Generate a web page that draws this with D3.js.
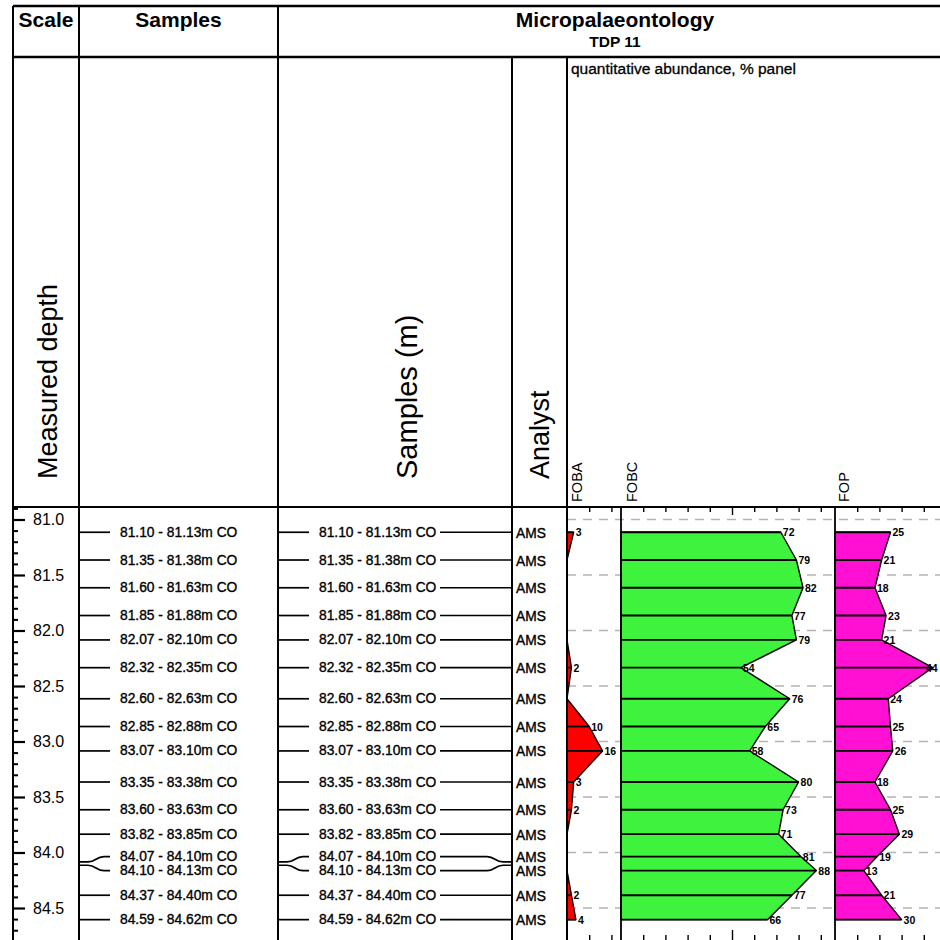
<!DOCTYPE html>
<html lang="en">
<head>
<meta charset="UTF-8">
<script src="https://d3js.org/d3.v7.min.js"></script>
<style>
  body { margin: 0; background: #fff; }
  svg { display: block; font-family: "Liberation Sans", Arial, sans-serif; }
</style>
</head>
<body>
<div id="chart"></div>
<script>
// samples (top / base depth, m)
const sampleTop  = [81.10, 81.35, 81.60, 81.85, 82.07, 82.32, 82.60, 82.85, 83.07, 83.35, 83.60, 83.82, 84.07, 84.10, 84.37, 84.59];
const sampleBase = [81.13, 81.38, 81.63, 81.88, 82.10, 82.35, 82.63, 82.88, 83.10, 83.38, 83.63, 83.85, 84.10, 84.13, 84.40, 84.62];
const analysts   = ["AMS", "AMS", "AMS", "AMS", "AMS", "AMS", "AMS", "AMS", "AMS", "AMS", "AMS", "AMS", "AMS", "AMS", "AMS", "AMS"];

// quantitative abundance, %
const foba = [3, 0, 0, 0, 0, 2, 0, 10, 16, 3, 2, 0, 0, 0, 2, 4];
const fobc = [72, 79, 82, 77, 79, 54, 76, 65, 58, 80, 73, 71, 81, 88, 77, 66];
const fop  = [25, 21, 18, 23, 21, 44, 24, 25, 26, 18, 25, 29, 19, 13, 21, 30];

const depthLabels = [81.0, 81.5, 82.0, 82.5, 83.0, 83.5, 84.0, 84.5];
const depthMinor  = [80.9, 81.1, 81.2, 81.3, 81.4, 81.6, 81.7, 81.8, 81.9, 82.1, 82.2, 82.3, 82.4, 82.6, 82.7, 82.8, 82.9,
                     83.1, 83.2, 83.3, 83.4, 83.6, 83.7, 83.8, 83.9, 84.1, 84.2, 84.3, 84.4, 84.6, 84.7];
const pctTicks = [10, 20, 30, 40, 50, 60, 70, 80, 90];

const W = 940, H = 940;
const svg = d3.select("#chart").append("svg").attr("width", W).attr("height", H);

// layout
const topY = 6, headBottom = 57, panelTop = 507, bottomY = 941;
const colX = { left: 13, scale: 79, samples: 278, analyst: 512, foba: 567, fobc: 621, fop: 835 };

const y = d3.scaleLinear().domain([81, 84.5]).range([519.5, 908]);

// one x-scale per curve, same % width
const pctW = 222;
const xFoba = d3.scaleLinear().domain([0, 100]).range([colX.foba, colX.foba + pctW]);
const xFobc = d3.scaleLinear().domain([0, 100]).range([colX.fobc, colX.fobc + pctW]);
const xFop  = d3.scaleLinear().domain([0, 100]).range([colX.fop, colX.fop + pctW]);

// sample mid depth and spread label positions
const samples = sampleTop.map((t, i) => ({
  top: t, base: sampleBase[i], analyst: analysts[i],
  foba: foba[i], fobc: fobc[i], fop: fop[i],
  yTrue: y((t + sampleBase[i]) / 2)
}));
samples.forEach(d => d.yl = d.yTrue);
const minGap = 14;
for (let k = 0; k < 20; k++) {
  for (let i = 1; i < samples.length; i++) {
    const a = samples[i - 1], b = samples[i];
    if (b.yl - a.yl < minGap) {
      const m = (a.yl + b.yl) / 2;
      a.yl = m - minGap / 2;
      b.yl = m + minGap / 2;
    }
  }
}

// dashed grid in the data panels (behind fills)
svg.append("g").selectAll("line").data(depthLabels).join("line")
  .attr("x1", colX.foba).attr("x2", W)
  .attr("y1", d => y(d)).attr("y2", d => y(d))
  .attr("stroke", "#b4b4b4").attr("stroke-width", 1.3)
  .attr("stroke-dasharray", "9,7");

// curves
function drawCurve(key, xs, color) {
  const g = svg.append("g");
  const x0 = xs(0);
  g.append("path")
    .datum(samples)
    .attr("d", d3.area().x0(x0).x1(d => xs(d[key])).y(d => d.yl))
    .attr("fill", color)
    .attr("stroke", "#000").attr("stroke-width", 1.4).attr("stroke-linejoin", "round");
  g.selectAll("line").data(samples).join("line")
    .attr("x1", x0).attr("x2", d => xs(d[key]))
    .attr("y1", d => d.yl).attr("y2", d => d.yl)
    .attr("stroke", "#000").attr("stroke-width", 1.8);
  g.selectAll("text").data(samples.filter(d => d[key] > 0)).join("text")
    .attr("x", d => Math.min(xs(d[key]) + 2, W - 14))
    .attr("y", d => d.yl)
    .attr("dominant-baseline", "central")
    .attr("font-size", 10.5).attr("font-weight", "bold")
    .text(d => d[key]);
}
drawCurve("foba", xFoba, "#ff0000");
drawCurve("fobc", xFobc, "#3ef23e");
drawCurve("fop", xFop, "#ff10d2");

// percent ticks, top and bottom of each panel
[[xFoba, colX.fobc], [xFobc, colX.fop], [xFop, W]].forEach(([xs, b]) => {
  const tv = pctTicks.filter(v => xs(v) < b - 2);
  const gt = svg.append("g").attr("transform", `translate(0,${panelTop})`)
    .call(d3.axisBottom(xs).tickValues(tv).tickSize(5).tickFormat(""));
  gt.selectAll("line").attr("stroke-width", 1.4).attr("y2", d => d === 50 ? 8 : 5);
  gt.select(".domain").remove();
  const gb = svg.append("g").attr("transform", `translate(0,${bottomY})`)
    .call(d3.axisTop(xs).tickValues(tv).tickSize(5).tickFormat(""));
  gb.selectAll("line").attr("stroke-width", 1.4).attr("y2", d => d === 50 ? -11 : -6);
  gb.select(".domain").remove();
});

// frame lines
const frame = svg.append("g").attr("stroke", "#000").attr("fill", "none");
frame.append("line").attr("x1", colX.left).attr("x2", W).attr("y1", topY).attr("y2", topY).attr("stroke-width", 2.4);
frame.append("line").attr("x1", colX.left).attr("x2", W).attr("y1", headBottom).attr("y2", headBottom).attr("stroke-width", 2.4);
frame.append("line").attr("x1", colX.left).attr("x2", W).attr("y1", panelTop).attr("y2", panelTop).attr("stroke-width", 2);
[colX.left, colX.scale, colX.samples].forEach(x => {
  frame.append("line").attr("x1", x).attr("x2", x).attr("y1", topY).attr("y2", H).attr("stroke-width", 2);
});
[colX.analyst, colX.foba].forEach(x => {
  frame.append("line").attr("x1", x).attr("x2", x).attr("y1", headBottom).attr("y2", H).attr("stroke-width", 2);
});
[colX.fobc, colX.fop].forEach(x => {
  frame.append("line").attr("x1", x).attr("x2", x).attr("y1", panelTop).attr("y2", H).attr("stroke-width", 1.8);
});

// header text
const hdr = svg.append("g").attr("font-weight", "bold").attr("fill", "#000");
hdr.append("text").attr("x", 46).attr("y", 27).attr("text-anchor", "middle").attr("font-size", 21).text("Scale");
hdr.append("text").attr("x", 178.5).attr("y", 27).attr("text-anchor", "middle").attr("font-size", 21).text("Samples");
hdr.append("text").attr("x", 615).attr("y", 27).attr("text-anchor", "middle").attr("font-size", 21).text("Micropalaeontology");
hdr.append("text").attr("x", 615).attr("y", 47).attr("text-anchor", "middle").attr("font-size", 15.5).text("TDP 11");
svg.append("text").attr("x", 571).attr("y", 74).attr("font-size", 15.5)
  .attr("stroke", "#000").attr("stroke-width", 0.3).text("quantitative abundance, % panel");

// rotated column titles
function vText(x, yb, size, txt) {
  svg.append("text")
    .attr("transform", `translate(${x},${yb}) rotate(-90)`)
    .attr("dominant-baseline", "central")
    .attr("font-size", size).text(txt);
}
vText(48, 479, 27, "Measured depth");
vText(407, 479, 29, "Samples (m)");
vText(540, 479, 27, "Analyst");
vText(577, 502, 14.5, "FOBA");
vText(632, 502, 14.5, "FOBC");
vText(844, 502, 14.5, "FOP");

// depth scale
const gMaj = svg.append("g").attr("transform", `translate(${colX.left},0)`)
  .call(d3.axisRight(y).tickValues(depthLabels).tickSize(12).tickPadding(8).tickFormat(d3.format(".1f")));
gMaj.select(".domain").remove();
gMaj.selectAll("line").attr("stroke-width", 2.2);
gMaj.selectAll("text").attr("font-size", 16).attr("font-family", "Liberation Sans, Arial, sans-serif").attr("fill", "#000");
const gMin = svg.append("g").attr("transform", `translate(${colX.left},0)`)
  .call(d3.axisRight(y).tickValues(depthMinor).tickSize(5).tickFormat(""));
gMin.select(".domain").remove();
gMin.selectAll("line").attr("stroke-width", 2);

// sample connectors: true depth at the column edge, label position next to the text
function linkLeft(xa, xb, yEdge, yLab) {
  return `M${xa},${yEdge} H${xa + 9} C${xa + 17},${yEdge} ${xa + 17},${yLab} ${xa + 25},${yLab} H${xb}`;
}
function linkRight(xa, xb, yLab, yEdge) {
  return `M${xa},${yLab} H${xb - 25} C${xb - 17},${yLab} ${xb - 17},${yEdge} ${xb - 9},${yEdge} H${xb}`;
}
const lk = svg.append("g").attr("stroke", "#000").attr("stroke-width", 1.7).attr("fill", "none");
lk.selectAll(".l1").data(samples).join("path").attr("class", "l1")
  .attr("d", d => linkLeft(colX.scale, 110, d.yTrue, d.yl));
lk.selectAll(".l2").data(samples).join("path").attr("class", "l2")
  .attr("d", d => linkLeft(colX.samples, 309, d.yTrue, d.yl));
lk.selectAll(".l3").data(samples).join("path").attr("class", "l3")
  .attr("d", d => linkRight(440, colX.analyst, d.yl, d.yTrue));

const fmt = d3.format(".2f");
const lab = svg.append("g").attr("font-size", 13.8).attr("fill", "#000")
  .attr("stroke", "#000").attr("stroke-width", 0.35);
lab.selectAll(".s1").data(samples).join("text").attr("class", "s1")
  .attr("x", 120).attr("y", d => d.yl).attr("dominant-baseline", "central")
  .text(d => `${fmt(d.top)} - ${fmt(d.base)}m CO`);
lab.selectAll(".s2").data(samples).join("text").attr("class", "s2")
  .attr("x", 319).attr("y", d => d.yl).attr("dominant-baseline", "central")
  .text(d => `${fmt(d.top)} - ${fmt(d.base)}m CO`);
lab.selectAll(".an").data(samples).join("text").attr("class", "an")
  .attr("x", 516).attr("y", d => d.yl + 1).attr("dominant-baseline", "central")
  .text(d => d.analyst);
</script>
</body>
</html>
